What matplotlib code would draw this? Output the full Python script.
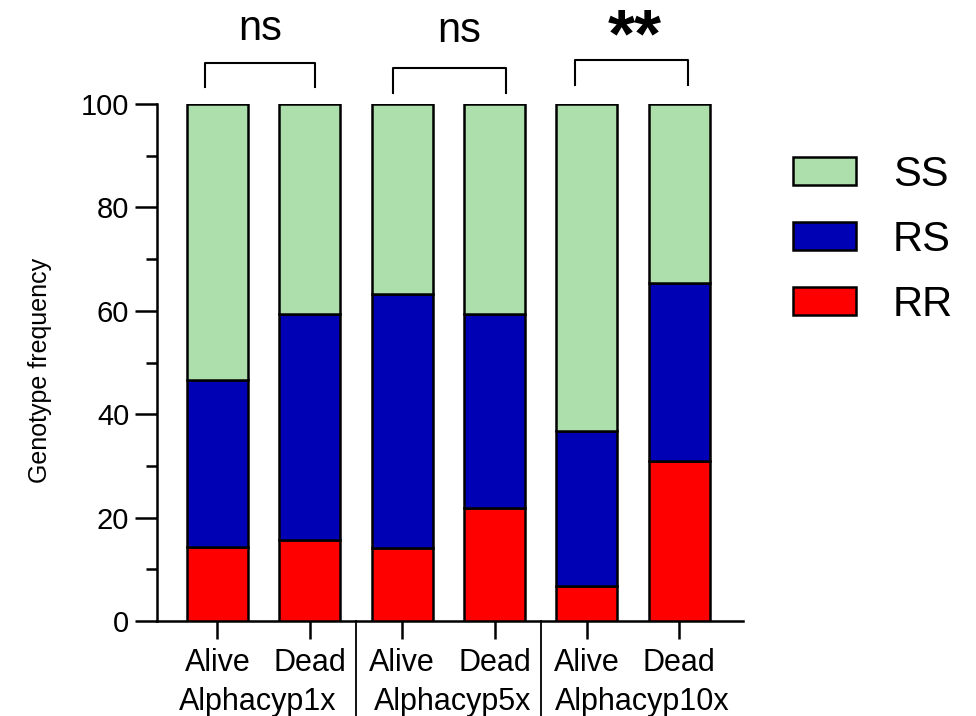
import matplotlib
matplotlib.use("Agg")
import matplotlib.pyplot as plt
from matplotlib.patches import Patch

plt.rcParams['font.family'] = ['Liberation Sans', 'DejaVu Sans']

# data
conditions = ["Alive", "Dead", "Alive", "Dead", "Alive", "Dead"]
groups = ["Alphacyp1x", "Alphacyp5x", "Alphacyp10x"]
rr = [14.3, 15.7, 14.1, 21.9, 6.8, 30.9]
rs = [32.3, 43.7, 49.1, 37.5, 30.0, 34.5]
ss = [53.4, 40.6, 36.8, 40.6, 63.2, 34.6]
signif = ["ns", "ns", "**"]

col_ss = "#addfad"
col_rs = "#0000b4"
col_rr = "#ff0000"

fig = plt.figure(figsize=(9.76, 7.16), dpi=100)
ax = fig.add_axes([157 / 976, 1 - 621 / 716, (743 - 157) / 976, (621 - 104) / 716])

x = list(range(len(conditions)))
w = 0.66
lw = 1.8
ax.bar(x, rr, w, color=col_rr, edgecolor="black", linewidth=lw, zorder=3)
ax.bar(x, rs, w, bottom=rr, color=col_rs, edgecolor="black", linewidth=lw, zorder=3)
bottom2 = [a + b for a, b in zip(rr, rs)]
ax.bar(x, ss, w, bottom=bottom2, color=col_ss, edgecolor="black", linewidth=lw, zorder=3)

ax.set_xlim(-0.655, 5.69)
ax.set_ylim(0, 100)
ax.set_yticks([0, 20, 40, 60, 80, 100])
ax.set_yticks([10, 30, 50, 70, 90], minor=True)
ax.tick_params(axis="y", which="major", length=16, width=1.8, labelsize=21, pad=4)
ax.tick_params(axis="y", which="minor", length=8, width=1.8)
ax.set_xticks(x)
ax.set_xticklabels([])
ax.tick_params(axis="x", length=13, width=1.8)

for s in ["top", "right"]:
    ax.spines[s].set_visible(False)
for s in ["left", "bottom"]:
    ax.spines[s].set_linewidth(1.8)

fig.text(40 / 976, 1 - 370 / 716, "Genotype frequency", rotation=90,
         ha="center", va="center", fontsize=18)

# condition labels and group labels
for xi, lab in zip(x, conditions):
    ax.text(xi, -8.2, lab, ha="center", va="center", fontsize=22)
group_x = [0.44, 2.55, 4.6]
for gx, g in zip(group_x, groups):
    ax.text(gx, -15.6, g, ha="center", va="center", fontsize=22)

# group separators
for sx in [1.5, 3.5]:
    ax.plot([sx, sx], [0, -19], color="black", lw=1.3, clip_on=False)

# significance brackets
brackets = [(-0.135, 1.055, 108.0, 103.2), (1.90, 3.12, 107.0, 102.2), (3.87, 5.09, 108.5, 103.7)]
text_y = [114.6, 114.2, 112.6]
text_x = [0.46, 2.62, 4.52]
for (x0, x1, top, leg), tx, ty, lab in zip(brackets, text_x, text_y, signif):
    ax.plot([x0, x0, x1, x1], [leg, top, top, leg], color="black", lw=1.5, clip_on=False)
    ax.text(tx, ty, lab, ha="center", va="center",
            fontsize=30 if lab == "ns" else 50, fontweight="bold" if lab == "**" else "normal")

handles = [Patch(facecolor=col_ss, edgecolor="black", linewidth=lw, label="SS"),
           Patch(facecolor=col_rs, edgecolor="black", linewidth=lw, label="RS"),
           Patch(facecolor=col_rr, edgecolor="black", linewidth=lw, label="RR")]
fig.legend(handles=handles, loc="center left", bbox_to_anchor=(793 / 976, 1 - 240 / 716),
           frameon=False, fontsize=30, handlelength=1.5, handleheight=0.65,
           labelspacing=0.6, handletextpad=0.9, borderpad=0, borderaxespad=0)

fig.savefig("out.png", dpi=100)
